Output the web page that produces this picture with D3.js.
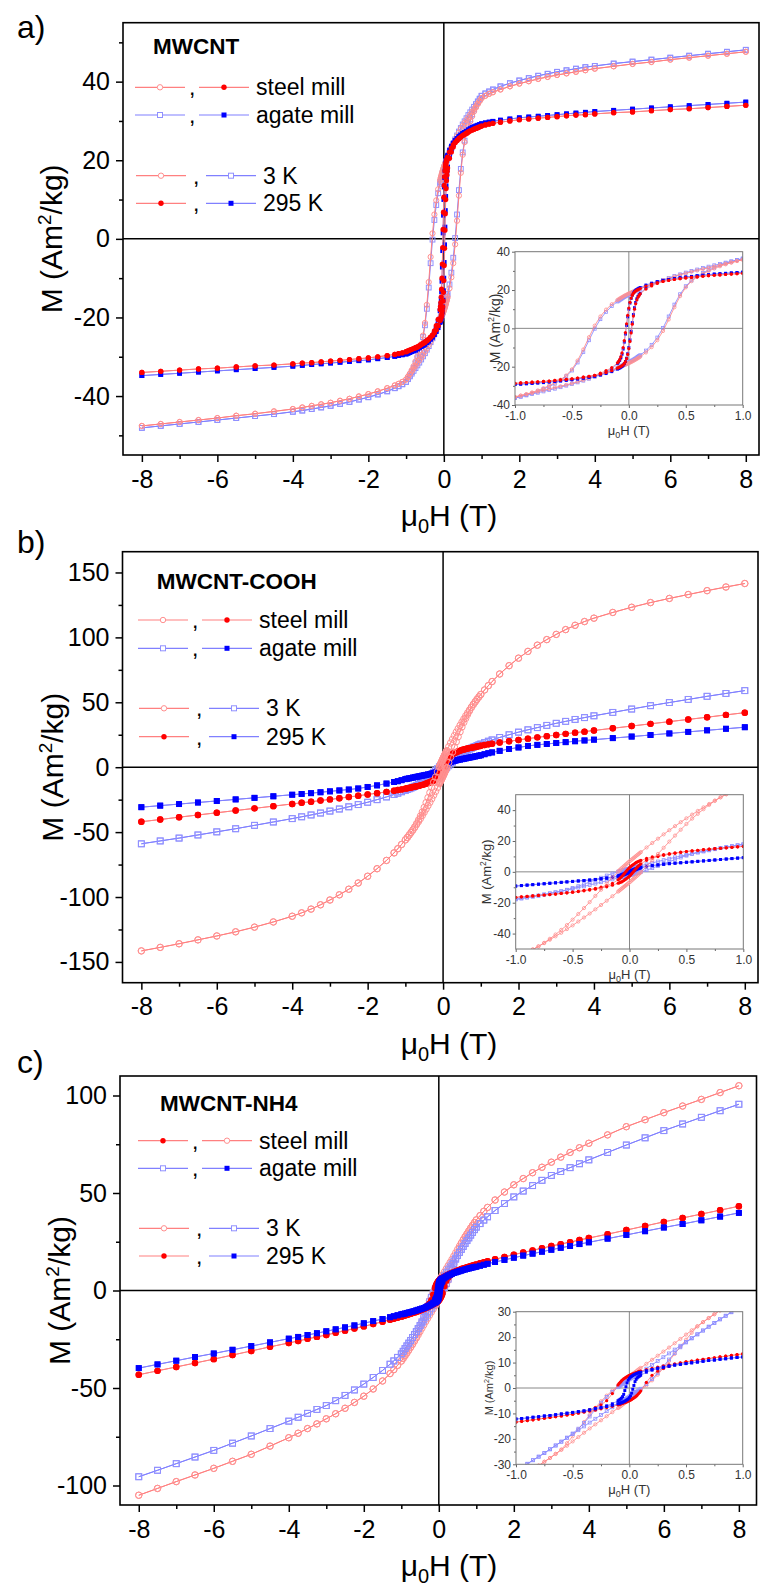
<!DOCTYPE html>
<html lang="en">
<head>
<meta charset="UTF-8">
<meta name="viewport" content="width=device-width, initial-scale=1.0">
<title>M(H) loops of ball-milled MWCNT</title>
<script src="https://cdn.jsdelivr.net/npm/d3@7/dist/d3.min.js"></script>
<style>
  body { margin: 0; background: #fff; }
  svg { display: block; font-family: "Liberation Sans", Arial, sans-serif; }
  .main-axis text { font-size: 25px; fill: #000; }
  .main-axis line { stroke: #000; stroke-width: 1.5px; }
  .inset-axis text { font-size: 12px; fill: #333; }
  .inset-axis line { stroke: #666; stroke-width: 1px; }
  .frame { fill: none; stroke: #000; stroke-width: 1.6px; }
  .inset-bg { fill: #fff; stroke: none; }
  .inset-frame { fill: none; stroke: #777; stroke-width: 1px; }
  .zero { stroke: #000; stroke-width: 1.5px; }
  .inset-zero { stroke: #888; stroke-width: 1px; }
  .panel-label { font-size: 32px; }
  .axis-title { font-size: 30px; }
  .inset-title { fill: #333; }
  .sample { font-size: 22.5px; font-weight: bold; }
  .legend-text { font-size: 23px; }
</style>
</head>
<body>
<script>
// field steps of one sweep (T); high-field part is the same on both sides
const fieldHigh = [8, 7.5, 7, 6.5, 6, 5.5, 5, 4.5, 4, 3.75, 3.5, 3.25, 3, 2.75, 2.5, 2.25, 2, 1.75, 1.5, 1.3, 1.2, 1.1];
const fieldLow = [1, 0.95, 0.9, 0.85, 0.8, 0.75, 0.7, 0.65, 0.6, 0.55, 0.5, 0.45, 0.4, 0.35, 0.3, 0.25, 0.2, 0.15,
  0.1, 0.09, 0.08, 0.07, 0.06, 0.05, 0.04, 0.03, 0.02, 0.01, 0, -0.01, -0.02, -0.03, -0.04, -0.05, -0.06, -0.07, -0.08, -0.09, -0.1,
  -0.15, -0.2, -0.25, -0.3, -0.35, -0.4, -0.45, -0.5, -0.55, -0.6, -0.65, -0.7, -0.75, -0.8, -0.85, -0.9, -0.95, -1];

const fieldTicks = [-8, -6, -4, -2, 0, 2, 4, 6, 8];
const fieldMinor = [-7, -5, -3, -1, 1, 3, 5, 7];
const insetFieldTicks = [-1, -0.5, 0, 0.5, 1];
const insetFieldMinor = [-0.75, -0.25, 0.25, 0.75];

// a) MWCNT  (descending sweep, M in Am2/kg)
const mwcnt_steel_3K_hi = [47.6, 47.1, 46.6, 46.1, 45.6, 45.0, 44.5, 43.9, 43.3, 42.9, 42.5, 42.1, 41.7, 41.2, 40.7, 40.1, 39.5, 38.8, 38.0, 37.3, 36.9, 36.4];
const mwcnt_steel_3K_lo = [35.8, 35.1, 34.4, 33.7, 33.0, 32.3, 31.6, 30.9, 30.2, 29.5, 28.7, 27.9, 27.0, 26.1, 25.1, 24.1, 23.0, 21.9,
  20.7, 20.5, 20.2, 20.0, 19.7, 19.5, 19.2, 19.0, 18.7, 18.5, 18.2, 17.9, 17.6, 17.3, 17.0, 16.6, 16.3, 15.9, 15.6, 15.2, 14.8,
  12.6, 9.8, 6.2, 1.4, -4.6, -11.0, -16.8, -21.4, -24.6, -26.8, -28.4, -29.9, -31.2, -32.4, -33.4, -34.3, -35.1, -35.8];
const mwcnt_agate_3K_hi = [48.1, 47.6, 47.1, 46.6, 46.1, 45.6, 45.1, 44.6, 44.0, 43.7, 43.3, 42.9, 42.5, 42.0, 41.5, 40.9, 40.3, 39.6, 38.8, 38.0, 37.5, 37.0];
const mwcnt_agate_3K_lo = [36.4, 35.7, 35.0, 34.3, 33.6, 32.9, 32.2, 31.5, 30.7, 29.9, 29.1, 28.2, 27.3, 26.3, 25.3, 24.2, 23.1, 21.9,
  20.6, 20.3, 20.1, 19.8, 19.5, 19.2, 18.9, 18.6, 18.3, 18.0, 17.7, 17.4, 17.0, 16.7, 16.4, 16.0, 15.6, 15.2, 14.8, 14.4, 14.0,
  11.6, 8.6, 4.8, -0.2, -6.2, -12.4, -17.8, -22.0, -25.0, -27.2, -28.9, -30.4, -31.7, -32.9, -33.9, -34.8, -35.6, -36.4];
const mwcnt_steel_295K_hi = [34.0, 33.7, 33.4, 33.1, 32.9, 32.6, 32.3, 32.1, 31.8, 31.6, 31.5, 31.3, 31.1, 30.9, 30.7, 30.5, 30.3, 30.0, 29.7, 29.4, 29.2, 29.0];
const mwcnt_steel_295K_lo = [28.7, 28.5, 28.3, 28.1, 27.9, 27.7, 27.5, 27.2, 26.9, 26.6, 26.3, 25.9, 25.5, 25.0, 24.5, 23.9, 23.1, 22.1,
  20.8, 20.5, 20.2, 19.9, 19.5, 19.0, 18.3, 17.3, 15.8, 13.6, 10.6, 6.8, 2.4, -2.2, -6.4, -10.0, -12.8, -14.8, -16.2, -17.2, -18.0,
  -20.5, -22.1, -23.4, -24.5, -25.0, -25.5, -25.9, -26.3, -26.6, -26.9, -27.2, -27.5, -27.7, -27.9, -28.1, -28.3, -28.5, -28.7];
const mwcnt_agate_295K_hi = [34.8, 34.5, 34.2, 33.9, 33.6, 33.3, 33.0, 32.7, 32.4, 32.2, 32.0, 31.8, 31.6, 31.4, 31.2, 31.0, 30.8, 30.5, 30.2, 29.9, 29.7, 29.5];
const mwcnt_agate_295K_lo = [29.3, 29.1, 28.9, 28.7, 28.5, 28.3, 28.0, 27.7, 27.4, 27.1, 26.8, 26.4, 26.0, 25.5, 25.0, 24.4, 23.6, 22.6,
  21.3, 21.0, 20.7, 20.3, 19.9, 19.3, 18.5, 17.3, 15.6, 13.2, 10.0, 6.0, 1.5, -3.0, -7.2, -10.8, -13.5, -15.4, -16.7, -17.6, -18.3,
  -21.0, -22.7, -24.0, -25.0, -25.5, -26.0, -26.4, -26.8, -27.1, -27.4, -27.7, -28.0, -28.3, -28.5, -28.7, -28.9, -29.1, -29.3];

// b) MWCNT-COOH
const cooh_steel_3K_hi = [141.5, 138.8, 136.0, 133.0, 130.0, 126.8, 123.2, 119.2, 114.8, 112.2, 109.3, 106.0, 102.3, 98.3, 94.0, 89.2, 84.0, 78.2, 71.8, 66.0, 62.8, 59.5];
const cooh_steel_3K_lo = [56.0, 54.2, 52.3, 50.3, 48.3, 46.2, 44.0, 41.8, 39.5, 37.1, 34.7, 32.2, 29.6, 27.0, 24.3, 21.5, 18.7, 15.8,
  12.8, 12.2, 11.6, 11.0, 10.4, 9.8, 9.2, 8.6, 8.0, 7.4, 6.8, 6.2, 5.5, 4.9, 4.2, 3.6, 2.9, 2.3, 1.6, 0.9, 0.2,
  -3.6, -7.6, -11.6, -15.6, -19.6, -23.5, -27.3, -31.0, -34.5, -37.6, -40.6, -43.4, -46.0, -48.3, -50.3, -52.3, -54.2, -56.0];
const cooh_agate_3K_hi = [59.0, 56.8, 54.6, 52.2, 49.8, 47.4, 44.8, 42.2, 39.6, 38.2, 36.8, 35.3, 33.8, 32.2, 30.5, 28.8, 27.0, 25.0, 22.9, 21.0, 20.0, 18.9];
const cooh_agate_3K_lo = [17.8, 17.2, 16.6, 16.0, 15.4, 14.7, 14.0, 13.3, 12.6, 11.8, 11.0, 10.2, 9.4, 8.5, 7.6, 6.7, 5.8, 4.9,
  4.0, 3.8, 3.6, 3.5, 3.3, 3.1, 2.9, 2.7, 2.6, 2.4, 2.2, 2.0, 1.8, 1.6, 1.4, 1.2, 1.0, 0.8, 0.6, 0.3, 0.1,
  -1.1, -2.4, -3.8, -5.2, -6.6, -8.0, -9.3, -10.5, -11.6, -12.6, -13.3, -14.0, -14.7, -15.4, -16.0, -16.6, -17.2, -17.8];
const cooh_steel_295K_hi = [42.0, 40.3, 38.5, 36.8, 35.1, 33.4, 31.7, 30.0, 28.3, 27.4, 26.6, 25.7, 24.8, 23.9, 23.0, 22.0, 21.0, 20.0, 19.0, 18.1, 17.6, 17.1];
const cooh_steel_295K_lo = [16.5, 16.2, 15.9, 15.6, 15.3, 15.0, 14.7, 14.4, 14.0, 13.6, 13.2, 12.8, 12.3, 11.8, 11.2, 10.5, 9.7, 8.7,
  7.4, 7.1, 6.8, 6.5, 6.1, 5.6, 5.1, 4.6, 4.0, 3.4, 2.8, 2.0, 1.2, 0.3, -0.6, -1.5, -2.4, -3.2, -3.9, -4.6, -5.2,
  -7.5, -8.9, -9.9, -10.7, -11.4, -12.0, -12.6, -13.2, -13.6, -14.0, -14.4, -14.7, -15.0, -15.3, -15.6, -15.9, -16.2, -16.5];
const cooh_agate_295K_hi = [30.8, 29.6, 28.4, 27.2, 26.0, 24.8, 23.6, 22.4, 21.2, 20.6, 20.0, 19.3, 18.6, 17.9, 17.2, 16.4, 15.2, 14.0, 12.6, 11.4, 10.8, 10.0];
const cooh_agate_295K_lo = [9.2, 8.9, 8.6, 8.3, 8.0, 7.7, 7.4, 7.1, 6.8, 6.5, 6.2, 5.9, 5.6, 5.3, 5.0, 4.6, 4.2, 3.7,
  3.0, 2.8, 2.6, 2.4, 2.2, 2.0, 1.7, 1.4, 1.1, 0.8, 0.5, 0.1, -0.3, -0.6, -0.9, -1.2, -1.5, -1.8, -2.1, -2.3, -2.5,
  -3.3, -3.9, -4.4, -4.9, -5.3, -5.6, -5.9, -6.2, -6.5, -6.8, -7.1, -7.4, -7.7, -8.0, -8.3, -8.6, -8.9, -9.2];

// c) MWCNT-NH4
const nh4_steel_3K_hi = [105.0, 101.5, 98.0, 94.6, 91.2, 87.6, 84.0, 79.8, 75.5, 73.2, 70.8, 68.4, 65.8, 63.2, 60.4, 57.4, 54.2, 50.5, 46.4, 42.6, 40.6, 38.4];
const nh4_steel_3K_lo = [36.2, 34.8, 33.4, 32.0, 30.5, 29.0, 27.5, 25.9, 24.3, 22.7, 21.0, 19.3, 17.6, 15.9, 14.3, 12.7, 11.1, 9.5,
  7.9, 7.6, 7.2, 6.9, 6.5, 6.2, 5.9, 5.5, 5.2, 4.8, 4.5, 4.1, 3.7, 3.4, 3.0, 2.6, 2.2, 1.9, 1.5, 1.2, 0.8,
  -1.0, -3.0, -5.2, -7.8, -10.6, -13.4, -16.2, -19.0, -21.7, -24.2, -25.9, -27.5, -29.0, -30.5, -32.0, -33.4, -34.8, -36.2];
const nh4_agate_3K_hi = [95.5, 92.2, 88.8, 85.4, 82.0, 78.3, 74.6, 70.8, 67.0, 65.0, 63.0, 61.0, 59.0, 56.5, 53.8, 51.0, 48.0, 44.6, 41.0, 37.8, 36.1, 34.3];
const nh4_agate_3K_lo = [32.5, 31.2, 29.8, 28.4, 27.0, 25.6, 24.1, 22.6, 21.1, 19.6, 18.1, 16.6, 15.1, 13.6, 12.1, 10.6, 9.1, 7.6,
  6.2, 5.9, 5.6, 5.4, 5.1, 4.8, 4.5, 4.2, 4.0, 3.7, 3.4, 3.1, 2.8, 2.5, 2.2, 1.9, 1.6, 1.3, 0.9, 0.6, 0.3,
  -1.5, -3.5, -5.8, -8.4, -11.2, -13.8, -16.0, -17.9, -19.5, -21.1, -22.6, -24.1, -25.6, -27.0, -28.4, -29.8, -31.2, -32.5];
const nh4_steel_295K_hi = [43.2, 41.2, 39.2, 37.2, 35.2, 33.1, 31.0, 28.9, 26.9, 25.9, 24.8, 23.8, 22.8, 21.7, 20.6, 19.5, 18.4, 17.2, 16.0, 15.0, 14.5, 14.0];
const nh4_steel_295K_lo = [13.4, 13.1, 12.8, 12.5, 12.2, 11.9, 11.6, 11.3, 11.0, 10.6, 10.3, 9.9, 9.5, 9.1, 8.7, 8.2, 7.7, 7.2,
  6.6, 6.5, 6.4, 6.2, 6.1, 5.9, 5.7, 5.6, 5.4, 5.2, 5.0, 4.8, 4.5, 4.2, 3.9, 3.6, 3.2, 2.8, 2.3, 1.8, 1.2,
  -2.2, -5.0, -6.6, -7.7, -8.5, -9.2, -9.8, -10.3, -10.6, -11.0, -11.3, -11.6, -11.9, -12.2, -12.5, -12.8, -13.1, -13.4];
const nh4_agate_295K_hi = [39.8, 37.9, 36.0, 34.1, 32.3, 30.4, 28.5, 26.6, 24.7, 23.8, 22.8, 21.9, 20.9, 19.9, 18.9, 17.9, 16.8, 15.7, 14.6, 13.7, 13.2, 12.7];
const nh4_agate_295K_lo = [12.2, 12.0, 11.8, 11.5, 11.3, 11.0, 10.8, 10.5, 10.2, 9.9, 9.6, 9.3, 9.0, 8.6, 8.2, 7.8, 7.3, 6.8,
  6.2, 6.1, 5.9, 5.8, 5.6, 5.4, 5.2, 4.9, 4.6, 4.3, 3.8, 3.1, 2.0, 0.5, -1.0, -2.5, -3.4, -4.0, -4.4, -4.7, -5.0,
  -6.2, -7.0, -7.6, -8.1, -8.6, -9.0, -9.3, -9.6, -9.9, -10.2, -10.5, -10.8, -11.0, -11.3, -11.5, -11.8, -12.0, -12.2];

const STYLE = {
  steel3K:  { shape: "circle", filled: false, color: "#ff9090", line: "#ff8080" },
  agate3K:  { shape: "square", filled: false, color: "#9090ff", line: "#8080ff" },
  steel295: { shape: "circle", filled: true,  color: "#ff0000", line: "#ff8080" },
  agate295: { shape: "square", filled: true,  color: "#0000ff", line: "#8080ff" }
};

const panels = [
  {
    label: "a)", labelY: 38, sample: "MWCNT",
    xDomain: [-8.5, 8.35], xRange: [123, 759],
    yDomain: [-55, 55], yRange: [455, 22.7],
    yTicks: [-40, -20, 0, 20, 40], yMinor: [-50, -30, -10, 10, 30, 50],
    yTitleX: 62, r: 2.6,
    series: [
      ["agate3K", mwcnt_agate_3K_hi, mwcnt_agate_3K_lo],
      ["steel3K", mwcnt_steel_3K_hi, mwcnt_steel_3K_lo],
      ["agate295", mwcnt_agate_295K_hi, mwcnt_agate_295K_lo],
      ["steel295", mwcnt_steel_295K_hi, mwcnt_steel_295K_lo]
    ],
    legend: { x0: 135, sampleX: 153, sampleY: 54, rows: [87.3, 115, 175.7, 203.3],
      first: ["steel3K", "steel295"] },
    inset: { xRange: [515, 742.7], yDomain: [-40, 40], yRange: [405, 251.7],
      yTicks: [-40, -20, 0, 20, 40], yMinor: [-30, -10, 10, 30], titleX: 500, titleSize: 14 }
  },
  {
    label: "b)", labelY: 553, sample: "MWCNT-COOH",
    xDomain: [-8.5, 8.35], xRange: [122.5, 758],
    yDomain: [-166, 166], yRange: [982.7, 551.7],
    yTicks: [-150, -100, -50, 0, 50, 100, 150], yMinor: [-125, -75, -25, 25, 75, 125],
    yTitleX: 63, r: 3.2,
    series: [
      ["agate3K", cooh_agate_3K_hi, cooh_agate_3K_lo],
      ["agate295", cooh_agate_295K_hi, cooh_agate_295K_lo],
      ["steel295", cooh_steel_295K_hi, cooh_steel_295K_lo],
      ["steel3K", cooh_steel_3K_hi, cooh_steel_3K_lo]
    ],
    legend: { x0: 138, sampleX: 156.7, sampleY: 589, rows: [620, 648.3, 708.3, 736.7],
      first: ["steel3K", "steel295"] },
    inset: { xRange: [515.7, 743.3], yDomain: [-50, 50], yRange: [949, 794.7],
      yTicks: [-40, -20, 0, 20, 40], yMinor: [-30, -10, 10, 30], titleX: 491, titleSize: 13 }
  },
  {
    label: "c)", labelY: 1073, sample: "MWCNT-NH4",
    xDomain: [-8.5, 8.47], xRange: [120, 756.5],
    yDomain: [-110, 110], yRange: [1505, 1076],
    yTicks: [-100, -50, 0, 50, 100], yMinor: [-75, -25, 25, 75],
    yTitleX: 70, r: 3.2,
    series: [
      ["steel3K", nh4_steel_3K_hi, nh4_steel_3K_lo],
      ["agate3K", nh4_agate_3K_hi, nh4_agate_3K_lo],
      ["steel295", nh4_steel_295K_hi, nh4_steel_295K_lo],
      ["agate295", nh4_agate_295K_hi, nh4_agate_295K_lo]
    ],
    legend: { x0: 138, sampleX: 160, sampleY: 1110.5, rows: [1140.7, 1168.3, 1228.3, 1256],
      first: ["steel295", "steel3K"] },
    inset: { xRange: [516, 742.7], yDomain: [-30, 30], yRange: [1464.3, 1311.7],
      yTicks: [-30, -20, -10, 0, 10, 20, 30], yMinor: [-25, -15, -5, 5, 15, 25], titleX: 493, titleSize: 11 }
  }
];

const svg = d3.select("body").append("svg").attr("width", 760).attr("height", 1587);
const defs = svg.append("defs");

// full loop: descending sweep then its point reflection as the return sweep
function loop(hi, lo) {
  const down = [];
  fieldHigh.forEach((h, i) => down.push([h, hi[i]]));
  fieldLow.forEach((h, i) => down.push([h, lo[i]]));
  for (let i = fieldHigh.length - 1; i >= 0; i--) down.push([-fieldHigh[i], -hi[i]]);
  const up = down.map(d => [-d[0], -d[1]]);
  return down.concat(up);
}

function drawSeries(g, pts, st, x, y, r, lw) {
  const line = d3.line().x(d => x(d[0])).y(d => y(d[1]));
  g.append("path").attr("d", line(pts))
    .attr("fill", "none").attr("stroke", st.line).attr("stroke-width", lw);
  const m = g.append("g")
    .attr("fill", st.filled ? st.color : "none")
    .attr("stroke", st.filled ? "none" : st.color)
    .attr("stroke-width", lw);
  if (st.shape === "circle") {
    m.selectAll("circle").data(pts).join("circle")
      .attr("cx", d => x(d[0])).attr("cy", d => y(d[1])).attr("r", r);
  } else {
    const s = r * 0.92;
    m.selectAll("rect").data(pts).join("rect")
      .attr("x", d => x(d[0]) - s).attr("y", d => y(d[1]) - s)
      .attr("width", 2 * s).attr("height", 2 * s);
  }
}

function legendSample(g, key, xa, xb, yy) {
  const st = STYLE[key];
  g.append("line").attr("x1", xa).attr("x2", xb).attr("y1", yy).attr("y2", yy)
    .attr("stroke", st.line).attr("stroke-width", 1.2);
  const xm = (xa + xb) / 2;
  if (st.shape === "circle") {
    g.append("circle").attr("cx", xm).attr("cy", yy).attr("r", 2.7)
      .attr("fill", st.filled ? st.color : "#fff").attr("stroke", st.color).attr("stroke-width", st.filled ? 0 : 1);
  } else {
    g.append("rect").attr("x", xm - 2.5).attr("y", yy - 2.5).attr("width", 5).attr("height", 5)
      .attr("fill", st.filled ? st.color : "#fff").attr("stroke", st.color).attr("stroke-width", st.filled ? 0 : 1);
  }
}

function drawPanel(p, idx) {
  const g = svg.append("g");
  const x = d3.scaleLinear().domain(p.xDomain).range(p.xRange);
  const y = d3.scaleLinear().domain(p.yDomain).range(p.yRange);
  const [left, right] = p.xRange;
  const [bottom, top] = p.yRange;

  g.append("text").attr("class", "panel-label").attr("x", 17).attr("y", p.labelY).text(p.label);

  // zero lines
  g.append("line").attr("class", "zero").attr("x1", left).attr("x2", right).attr("y1", y(0)).attr("y2", y(0));
  g.append("line").attr("class", "zero").attr("x1", x(0)).attr("x2", x(0)).attr("y1", top).attr("y2", bottom);

  // data
  const dg = g.append("g");
  p.series.forEach(([key, hi, lo]) => drawSeries(dg, loop(hi, lo), STYLE[key], x, y, p.r, 1));

  // axes and frame
  const ax = g.append("g").attr("class", "main-axis").attr("transform", `translate(0,${bottom})`)
    .call(d3.axisBottom(x).tickValues(fieldTicks).tickSize(7).tickPadding(8).tickFormat(d => d));
  ax.append("g").call(d3.axisBottom(x).tickValues(fieldMinor).tickSize(4).tickFormat(""));
  const ay = g.append("g").attr("class", "main-axis").attr("transform", `translate(${left},0)`)
    .call(d3.axisLeft(y).tickValues(p.yTicks).tickSize(7).tickPadding(6).tickFormat(d => d));
  ay.append("g").call(d3.axisLeft(y).tickValues(p.yMinor).tickSize(4).tickFormat(""));
  g.selectAll(".main-axis .domain").remove();
  g.selectAll(".main-axis").attr("font-size", null).attr("font-family", null);
  g.append("rect").attr("class", "frame")
    .attr("x", left).attr("y", top).attr("width", right - left).attr("height", bottom - top);

  // axis titles
  const yt = g.append("text").attr("class", "axis-title").attr("text-anchor", "middle")
    .attr("transform", `translate(${p.yTitleX},${(top + bottom) / 2}) rotate(-90)`);
  yt.append("tspan").text("M (Am");
  yt.append("tspan").attr("font-size", 19).attr("dy", -11).text("2");
  yt.append("tspan").attr("dy", 11).text("/kg)");
  const xt = g.append("text").attr("class", "axis-title").attr("text-anchor", "middle")
    .attr("x", 449).attr("y", bottom + 71);
  xt.append("tspan").text("\u03bc");
  xt.append("tspan").attr("font-size", 20).attr("dy", 7).text("0");
  xt.append("tspan").attr("dy", -7).text("H (T)");

  // legend
  const L = p.legend;
  g.append("text").attr("class", "sample").attr("x", L.sampleX).attr("y", L.sampleY).text(p.sample);
  const rowsSpec = [
    [L.first, "steel mill", 0], [["agate3K", "agate295"], "agate mill", 0],
    [["steel3K", "agate3K"], "3 K", 1], [["steel295", "agate295"], "295 K", 1]
  ];
  rowsSpec.forEach(([keys, label, kind], i) => {
    const yy = L.rows[i];
    const x0 = L.x0 + (kind ? 1 : 0);
    const gap = kind ? 20 : 14;
    legendSample(g, keys[0], x0, x0 + 50, yy);
    g.append("text").attr("class", "legend-text").attr("x", x0 + 50 + gap / 2 - 3).attr("y", yy + 8).text(",");
    legendSample(g, keys[1], x0 + 50 + gap, x0 + 100 + gap, yy);
    g.append("text").attr("class", "legend-text").attr("x", x0 + 107 + gap).attr("y", yy + 8).text(label);
  });

  // inset
  const I = p.inset;
  const ix = d3.scaleLinear().domain([-1, 1]).range(I.xRange);
  const iy = d3.scaleLinear().domain(I.yDomain).range(I.yRange);
  const [il, ir] = I.xRange, [ib, itp] = I.yRange;
  const ig = g.append("g");
  ig.append("rect").attr("class", "inset-bg").attr("x", il).attr("y", itp).attr("width", ir - il).attr("height", ib - itp);
  const clipId = "inset-clip-" + idx;
  defs.append("clipPath").attr("id", clipId).append("rect")
    .attr("x", il).attr("y", itp).attr("width", ir - il).attr("height", ib - itp);
  ig.append("line").attr("class", "inset-zero").attr("x1", il).attr("x2", ir).attr("y1", iy(0)).attr("y2", iy(0));
  ig.append("line").attr("class", "inset-zero").attr("x1", ix(0)).attr("x2", ix(0)).attr("y1", itp).attr("y2", ib);
  const idg = ig.append("g").attr("clip-path", `url(#${clipId})`);
  p.series.forEach(([key, hi, lo]) => drawSeries(idg, loop(hi, lo), STYLE[key], ix, iy, 1.6, 0.8));
  const iax = ig.append("g").attr("class", "inset-axis").attr("transform", `translate(0,${ib})`)
    .call(d3.axisBottom(ix).tickValues(insetFieldTicks).tickSize(3).tickPadding(3).tickFormat(d => d.toFixed(1)));
  iax.append("g").call(d3.axisBottom(ix).tickValues(insetFieldMinor).tickSize(2).tickFormat(""));
  const iay = ig.append("g").attr("class", "inset-axis").attr("transform", `translate(${il},0)`)
    .call(d3.axisLeft(iy).tickValues(I.yTicks).tickSize(3).tickPadding(2).tickFormat(d => d));
  iay.append("g").call(d3.axisLeft(iy).tickValues(I.yMinor).tickSize(2).tickFormat(""));
  ig.selectAll(".inset-axis .domain").remove();
  ig.selectAll(".inset-axis").attr("font-size", null).attr("font-family", null);
  ig.append("rect").attr("class", "inset-frame").attr("x", il).attr("y", itp).attr("width", ir - il).attr("height", ib - itp);

  const iyt = ig.append("text").attr("class", "inset-title").attr("text-anchor", "middle")
    .attr("font-size", I.titleSize)
    .attr("transform", `translate(${I.titleX},${(itp + ib) / 2}) rotate(-90)`);
  iyt.append("tspan").text("M (Am");
  iyt.append("tspan").attr("font-size", I.titleSize * 0.65).attr("dy", -I.titleSize * 0.4).text("2");
  iyt.append("tspan").attr("dy", I.titleSize * 0.4).text("/kg)");
  const ixt = ig.append("text").attr("class", "inset-title").attr("text-anchor", "middle")
    .attr("font-size", 13).attr("x", ix(0)).attr("y", ib + 30);
  ixt.append("tspan").text("\u03bc");
  ixt.append("tspan").attr("font-size", 9).attr("dy", 3).text("0");
  ixt.append("tspan").attr("dy", -3).text("H (T)");
}

panels.forEach(drawPanel);
</script>
</body>
</html>
